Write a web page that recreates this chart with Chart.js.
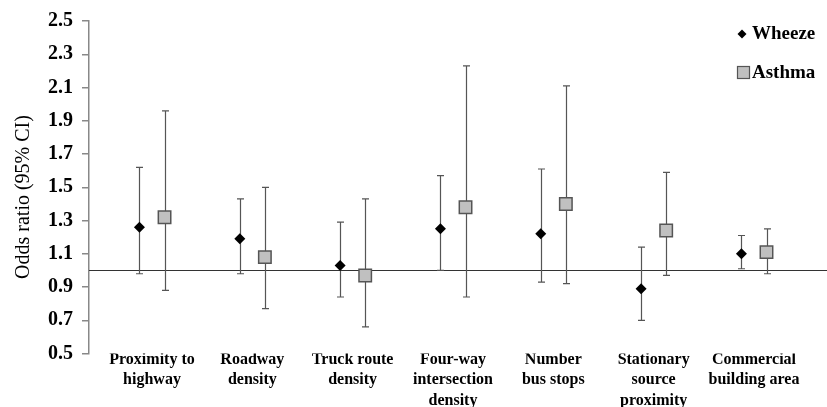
<!DOCTYPE html>
<html>
<head>
<meta charset="utf-8">
<script src="https://cdn.jsdelivr.net/npm/chart.js@4.4.0/dist/chart.umd.min.js"></script>
<style>
  html, body { margin: 0; padding: 0; background: #fff; overflow: hidden; }
  #wrap { position: relative; width: 827px; height: 407px; }
</style>
</head>
<body>
<div id="wrap"><canvas id="myChart"></canvas></div>
<script>
// categories (x axis text, one line per entry)
const categories = [
  ['Proximity to', 'highway'],
  ['Roadway', 'density'],
  ['Truck route', 'density'],
  ['Four-way', 'intersection', 'density'],
  ['Number', 'bus stops'],
  ['Stationary', 'source', 'proximity'],
  ['Commercial', 'building area']
];

// odds ratios and 95% CI
const wheezeOR   = [1.26, 1.19, 1.03, 1.25, 1.22, 0.89, 1.10];
const wheezeLow  = [0.98, 0.98, 0.84, 1.00, 0.93, 0.70, 1.01];
const wheezeHigh = [1.62, 1.43, 1.29, 1.57, 1.61, 1.14, 1.21];

const asthmaOR   = [1.32, 1.08, 0.97, 1.38, 1.40, 1.24, 1.11];
const asthmaLow  = [0.88, 0.77, 0.66, 0.84, 0.92, 0.97, 0.98];
const asthmaHigh = [1.96, 1.50, 1.43, 2.23, 2.11, 1.59, 1.25];

const yTicks = [0.5, 0.7, 0.9, 1.1, 1.3, 1.5, 1.7, 1.9, 2.1, 2.3, 2.5];
const refValue = 1.0;
const yTitle = 'Odds ratio (95% CI)';

const serif = "'Liberation Serif', 'Times New Roman', serif";

function points(or, lo, hi, shift) {
  return or.map((v, i) => ({ x: i + shift, y: v, low: lo[i], high: hi[i] }));
}

// reference line at OR = 1 and the CI whiskers
const errorBars = {
  id: 'errorBars',
  beforeDatasetsDraw(chart) {
    const { ctx, chartArea, scales: { x, y } } = chart;
    ctx.save();
    const yr = Math.round(y.getPixelForValue(refValue)) + 0.5;
    ctx.strokeStyle = '#333';
    ctx.lineWidth = 1.2;
    ctx.beginPath();
    ctx.moveTo(chartArea.left, yr);
    ctx.lineTo(chart.width, yr);
    ctx.stroke();

    ctx.strokeStyle = '#555';
    ctx.lineWidth = 1.2;
    chart.data.datasets.forEach(ds => {
      ds.data.forEach(p => {
        const px = Math.round(x.getPixelForValue(p.x)) + 0.5;
        const t = y.getPixelForValue(p.high);
        const b = y.getPixelForValue(p.low);
        ctx.beginPath();
        ctx.moveTo(px, t); ctx.lineTo(px, b);
        ctx.moveTo(px - 3.5, t); ctx.lineTo(px + 3.5, t);
        ctx.moveTo(px - 3.5, b); ctx.lineTo(px + 3.5, b);
        ctx.stroke();
      });
    });
    ctx.restore();
  }
};

// legend box in the top right corner, plus the rotated y title
const cornerLegend = {
  id: 'cornerLegend',
  afterDraw(chart) {
    const ctx = chart.ctx;
    ctx.save();
    ctx.fillStyle = '#000';
    ctx.beginPath();
    ctx.moveTo(742, 29.5); ctx.lineTo(746.5, 34); ctx.lineTo(742, 38.5); ctx.lineTo(737.5, 34);
    ctx.closePath();
    ctx.fill();

    ctx.fillStyle = '#c0c0c0';
    ctx.strokeStyle = '#555';
    ctx.lineWidth = 1.2;
    ctx.fillRect(737.5, 66.5, 12, 12);
    ctx.strokeRect(737.5, 66.5, 12, 12);

    ctx.fillStyle = '#000';
    ctx.font = "bold 19px " + serif;
    ctx.textBaseline = 'alphabetic';
    ctx.textAlign = 'left';
    ctx.fillText(chart.data.datasets[0].label, 752, 39);
    ctx.fillText(chart.data.datasets[1].label, 752, 78);

    ctx.translate(24, 197);
    ctx.rotate(-Math.PI / 2);
    ctx.font = "20px " + serif;
    ctx.textAlign = 'center';
    ctx.textBaseline = 'middle';
    ctx.fillText(yTitle, 0, 0);
    ctx.restore();
  }
};

const data = {
  datasets: [
    {
      label: 'Wheeze',
      data: points(wheezeOR, wheezeLow, wheezeHigh, -0.125),
      pointStyle: 'rectRot',
      pointRadius: 5.5,
      backgroundColor: '#000',
      borderColor: '#000',
      borderWidth: 0
    },
    {
      label: 'Asthma',
      data: points(asthmaOR, asthmaLow, asthmaHigh, 0.125),
      pointStyle: 'rect',
      pointRadius: 8.8,
      backgroundColor: '#c0c0c0',
      borderColor: '#555',
      borderWidth: 1.5
    }
  ]
};

const config = {
  type: 'scatter',
  data: data,
  options: {
    responsive: true,
    maintainAspectRatio: false,
    animation: false,
    layout: { autoPadding: false, padding: { top: 20, right: 0, bottom: 0, left: 0 } },
    plugins: {
      legend: { display: false },
      tooltip: { enabled: false }
    },
    scales: {
      x: {
        type: 'linear',
        min: -0.628,
        max: 6.728,
        grid: { display: false, drawTicks: false },
        border: { display: false },
        afterBuildTicks: s => { s.ticks = categories.map((c, i) => ({ value: i })); },
        ticks: {
          padding: -4,
          maxRotation: 0,
          autoSkip: false,
          color: '#000',
          font: { family: serif, size: 16, weight: 'bold', lineHeight: 1.28 },
          callback: v => categories[Math.round(v)]
        }
      },
      y: {
        min: 0.5,
        max: 2.5,
        afterBuildTicks: s => { s.ticks = yTicks.map(v => ({ value: v })); },
        afterFit: s => { s.width = 89; },
        grid: { drawOnChartArea: false, tickLength: 7, color: '#888', lineWidth: 1.5 },
        border: { color: '#888', width: 1.5 },
        ticks: {
          padding: 9,
          color: '#000',
          font: { family: serif, size: 20, weight: 'bold' },
          callback: v => v.toFixed(1)
        }
      }
    }
  },
  plugins: [errorBars, cornerLegend]
};

const ctx = document.getElementById('myChart').getContext('2d');
const myChart = new Chart(ctx, config);
</script>
</body>
</html>
